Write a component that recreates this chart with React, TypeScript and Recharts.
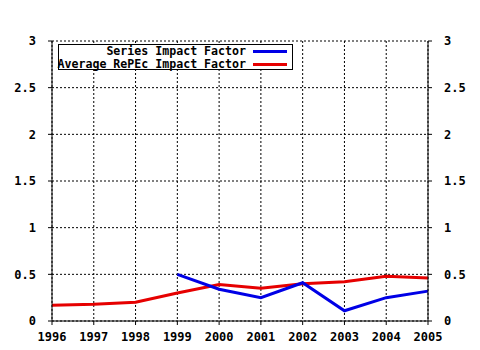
import React from "react";
import { LineChart, Line, XAxis, YAxis, CartesianGrid } from "recharts";

const years = [1996, 1997, 1998, 1999, 2000, 2001, 2002, 2003, 2004, 2005];
const seriesImpact = [null, null, null, 0.5, 0.34, 0.25, 0.41, 0.11, 0.25, 0.32];
const avgImpact = [0.17, 0.18, 0.2, 0.3, 0.39, 0.35, 0.4, 0.42, 0.48, 0.46];
const yTicks = [0, 0.5, 1, 1.5, 2, 2.5, 3];
const yTickLabels = ["0", "0.5", "1", "1.5", "2", "2.5", "3"];
const minorTicks: number[] = [];
years.slice(0, -1).forEach((y) => {
  minorTicks.push(y + 0.25, y + 0.5, y + 0.75);
});
const seriesNames = ["Series Impact Factor", "Average RePEc Impact Factor"];
const seriesColors = ["#0000e6", "#e60000"];

const data = years.map((year, i) => ({
  year,
  series: seriesImpact[i],
  avg: avgImpact[i],
}));

const FONT = "'DejaVu Sans Mono', monospace";
const tickStyle = { fontFamily: FONT, fontSize: 12, fontWeight: "bold" as const, fill: "#000" };
const fmtY = (v: number) => yTickLabels[yTicks.indexOf(v)] ?? String(v);
const Empty = () => <g />;

const hiddenLine = (xId: string, yId: string) => (
  <Line
    key={xId + yId}
    xAxisId={xId}
    yAxisId={yId}
    dataKey="avg"
    stroke="none"
    strokeWidth={0}
    dot={false}
    activeDot={false}
    legendType="none"
    isAnimationActive={false}
  />
);

const xAxisBase = {
  dataKey: "year",
  type: "number" as const,
  domain: [1996, 2005],
  interval: 0 as const,
  tickLine: { stroke: "#000" },
};

export default function App() {
  return (
    <div style={{ position: "absolute", left: 0, top: 0, width: 480, height: 350, background: "#fff" }}>
      <LineChart width={480} height={350} data={data} margin={{ top: 41, right: 0, bottom: 0, left: 0 }}>
        <CartesianGrid stroke="#000" strokeDasharray="2 2" xAxisId="main" yAxisId="left" />
        <XAxis {...xAxisBase} xAxisId="minorBottom" height={0} ticks={minorTicks} tickSize={3} axisLine={false} tick={Empty} />
        <XAxis
          {...xAxisBase}
          xAxisId="main"
          height={29}
          ticks={years}
          tickSize={4}
          tickMargin={7}
          axisLine={{ stroke: "#000" }}
          tick={tickStyle}
        />
        <XAxis
          {...xAxisBase}
          xAxisId="top"
          orientation="top"
          height={0}
          ticks={years}
          tickSize={4}
          axisLine={{ stroke: "#000" }}
          tick={Empty}
        />
        <XAxis
          {...xAxisBase}
          xAxisId="minorTop"
          orientation="top"
          height={0}
          ticks={minorTicks}
          tickSize={3}
          axisLine={false}
          tick={Empty}
        />
        <YAxis
          yAxisId="left"
          domain={[0, 3]}
          ticks={yTicks}
          width={52}
          tickSize={4}
          tickMargin={12}
          tickFormatter={fmtY}
          axisLine={{ stroke: "#000" }}
          tickLine={{ stroke: "#000" }}
          tick={tickStyle}
          interval={0}
        />
        <YAxis
          yAxisId="right"
          orientation="right"
          domain={[0, 3]}
          ticks={yTicks}
          width={52}
          tickSize={4}
          tickMargin={12}
          tickFormatter={fmtY}
          axisLine={{ stroke: "#000" }}
          tickLine={{ stroke: "#000" }}
          tick={{ ...tickStyle, textAnchor: "start" }}
          interval={0}
        />
        {hiddenLine("top", "right")}
        {hiddenLine("minorTop", "right")}
        {hiddenLine("minorBottom", "right")}
        <Line
          xAxisId="main"
          yAxisId="left"
          type="linear"
          dataKey="avg"
          stroke={seriesColors[1]}
          strokeWidth={3}
          dot={false}
          isAnimationActive={false}
        />
        <Line
          xAxisId="main"
          yAxisId="left"
          type="linear"
          dataKey="series"
          stroke={seriesColors[0]}
          strokeWidth={3}
          dot={false}
          connectNulls={false}
          isAnimationActive={false}
        />
      </LineChart>
      <div
        style={{
          position: "absolute",
          left: 58,
          top: 44,
          width: 233,
          height: 24,
          border: "1px solid #000",
          background: "#fff",
          fontFamily: FONT,
          fontSize: 11.6,
          fontWeight: "bold",
          color: "#000",
        }}
      >
        {seriesNames.map((name, i) => (
          <div key={name} style={{ position: "relative", height: 12, lineHeight: "12px", marginTop: i === 0 ? 0 : 1 }}>
            <span style={{ position: "absolute", right: 233 - 187, whiteSpace: "nowrap" }}>{name}</span>
            <span
              style={{
                position: "absolute",
                left: 194,
                top: 5,
                width: 34,
                height: 3,
                background: seriesColors[i],
              }}
            />
          </div>
        ))}
      </div>
    </div>
  );
}
